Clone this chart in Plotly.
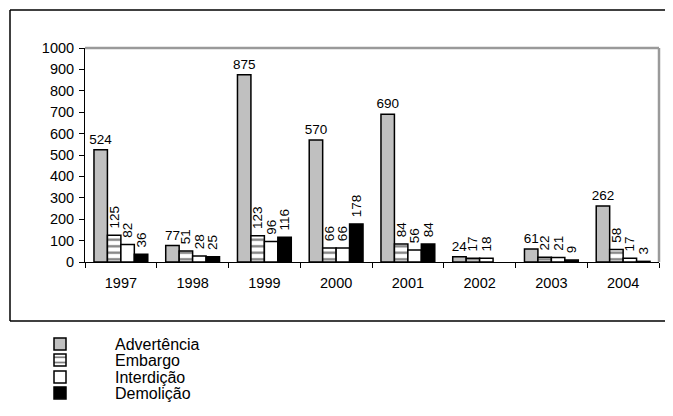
import plotly.graph_objects as go

years = ["1997", "1998", "1999", "2000", "2001", "2002", "2003", "2004"]
advertencia = [524, 77, 875, 570, 690, 24, 61, 262]
embargo = [125, 51, 123, 66, 84, 17, 22, 58]
interdicao = [82, 28, 96, 66, 56, 18, 21, 17]
demolicao = [36, 25, 116, 178, 84, None, 9, 3]
series_names = ["Advertência", "Embargo", "Interdição", "Demolição"]

FONT = "Liberation Sans, Arial, sans-serif"
OFF = 8  # page body margin
W, H = 673 - 2 * OFF, 416 - 2 * OFF
L = 85 - OFF
T = 48 - OFF
R = W - (659 - OFF)
B = H - (262 - OFF)
PW, PH = W - L - R, H - T - B


def px_x(x):
    return (x - OFF - L) / PW


def px_y(y):
    return (H - B - (y - OFF)) / PH


line = dict(color="black", width=1.5)
common = dict(textposition="outside", cliponaxis=False, constraintext="none",
              textfont=dict(family=FONT, size=13.5, color="black"))

fig = go.Figure()
fig.add_trace(go.Bar(x=years, y=advertencia, name=series_names[0], legend="legend",
                     marker=dict(color="#c0c0c0", line=line), textangle=0,
                     texttemplate="%{y}", **common))
fig.add_trace(go.Bar(x=years, y=embargo, name=series_names[1], legend="legend2",
                     marker=dict(color="white", line=line,
                                 pattern=dict(shape="-", fgcolor="black", bgcolor="white",
                                              size=6.5, solidity=0.35)),
                     textangle=-90, texttemplate="\u00a0%{y}", **common))
fig.add_trace(go.Bar(x=years, y=interdicao, name=series_names[2], legend="legend3",
                     marker=dict(color="white", line=line), textangle=-90,
                     texttemplate="\u00a0%{y}", **common))
fig.add_trace(go.Bar(x=years, y=demolicao, name=series_names[3], legend="legend4",
                     marker=dict(color="black", line=line), textangle=-90,
                     texttemplate="\u00a0%{y}", **common))

leg_x = px_x(5)
def leg(ypix):
    return dict(x=leg_x, y=px_y(ypix), xanchor="left", yanchor="middle",
                font=dict(family=FONT, size=16, color="black"),
                bgcolor="rgba(0,0,0,0)", itemwidth=100)

bx0, bx1 = px_x(10), px_x(700)
by0, by1 = px_y(321), px_y(10)
box = dict(color="black", width=1.5)

fig.update_layout(
    width=W, height=H,
    margin=dict(l=L, r=R, t=T, b=B, autoexpand=False),
    paper_bgcolor="white", plot_bgcolor="white",
    barmode="group", bargap=0.25, bargroupgap=0,
    font=dict(family=FONT, color="black"),
    showlegend=True,
    legend=leg(344), legend2=leg(360), legend3=leg(377), legend4=leg(393),
    xaxis=dict(type="category", showline=True, linecolor="black", linewidth=1,
               ticks="outside", ticklen=5, tickcolor="black", tickson="boundaries",
               ticklabelstandoff=8,
               tickfont=dict(family=FONT, size=14.5), showgrid=False, automargin=False,
               fixedrange=True),
    yaxis=dict(range=[0, 1000], dtick=100, showline=True, linecolor="black", linewidth=1,
               ticks="outside", ticklen=5, tickcolor="black", showgrid=False,
               ticklabelstandoff=2,
               zeroline=False, tickfont=dict(family=FONT, size=14.5), automargin=False,
               fixedrange=True),
    shapes=[
        dict(type="line", xref="paper", yref="paper", x0=0, x1=1, y0=1, y1=1,
             line=dict(color="#9a9a9a", width=2.5)),
        dict(type="line", xref="paper", yref="paper", x0=1, x1=1, y0=0, y1=1,
             line=dict(color="#9a9a9a", width=2.5)),
        dict(type="line", xref="paper", yref="paper", x0=bx0, x1=bx1, y0=by1, y1=by1, line=box),
        dict(type="line", xref="paper", yref="paper", x0=bx0, x1=bx1, y0=by0, y1=by0, line=box),
        dict(type="line", xref="paper", yref="paper", x0=bx0, x1=bx0, y0=by0, y1=by1, line=box),
    ],
)

fig.write_html("out.html")
